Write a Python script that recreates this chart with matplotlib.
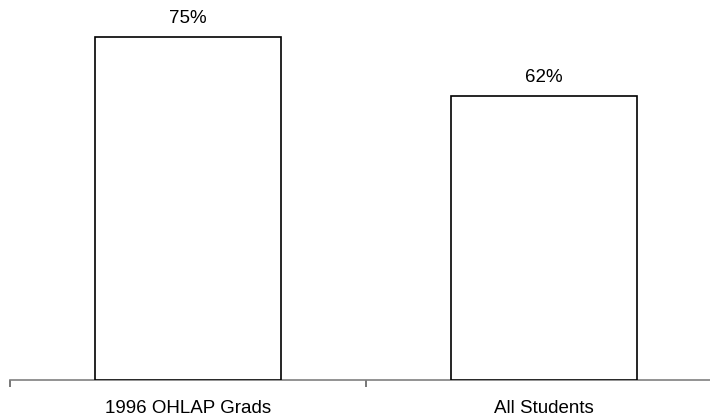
import matplotlib.pyplot as plt

categories = ["1996 OHLAP Grads", "All Students"]
values = [75, 62]

W, H = 710, 417
fig = plt.figure(figsize=(W / 100, H / 100), dpi=100)

# axes span: left edge at x=10px, each category 356px wide, baseline at y=380px
px_per_unit = 4.575
ymax = 80
left, cat_w, base = 10, 356, 380
ax_h = ymax * px_per_unit
ax = fig.add_axes([left / W, (H - base) / H, 2 * cat_w / W, ax_h / H])

x = range(len(categories))
bars = ax.bar(x, values, width=0.525, color="white", edgecolor="black", linewidth=1.2, zorder=3)

for xi, v in zip(x, values):
    ax.annotate(f"{v}%", (xi, v), xytext=(0, 13.5), textcoords="offset points",
                ha="center", va="center", fontsize=13.5,
                family="Liberation Sans", color="black")

ax.set_xlim(-0.5, 1.5)
ax.set_ylim(0, ymax)

for s in ["top", "right", "left"]:
    ax.spines[s].set_visible(False)
ax.spines["bottom"].set_color("#808080")
ax.spines["bottom"].set_linewidth(1.2)

ax.set_yticks([])
ax.set_xticks([-0.5, 0.5, 1.5])
ax.set_xticklabels([])
ax.tick_params(axis="x", which="major", direction="out", length=5, width=1.2, color="#606060")
ax.set_xticks(list(x), minor=True)
ax.set_xticklabels(categories, minor=True, fontsize=13.5, family="Liberation Sans")
ax.tick_params(axis="x", which="minor", length=0, pad=14.5)

fig.savefig("out.png", dpi=100)
